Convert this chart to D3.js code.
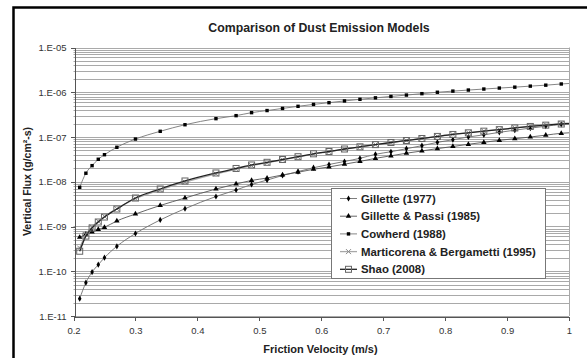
<!DOCTYPE html>
<html>
<head>
<meta charset="utf-8">
<script src="https://cdn.jsdelivr.net/npm/d3@7"></script>
<style>
  body { margin: 0; background: #fff; }
  svg { display: block; font-family: "Liberation Sans", Arial, sans-serif; }
</style>
</head>
<body>
<svg id="chart" width="587" height="358"></svg>
<script>
// friction velocity (m/s), last point only carries the line to the edge
var velocity = [0.21, 0.22, 0.23, 0.24, 0.25, 0.27, 0.30, 0.34, 0.38, 0.43,
  0.4625, 0.4875, 0.5125, 0.5375, 0.5625, 0.5875, 0.6125, 0.6375, 0.6625, 0.6875,
  0.7125, 0.7375, 0.7625, 0.7875, 0.8125, 0.8375, 0.8625, 0.8875, 0.9125, 0.9375,
  0.9625, 0.9875, 1.0];

// vertical flux (g/cm2-s)
var gillette1977 = [2.44e-11, 5.55e-11, 9.6e-11, 1.40e-10, 2.01e-10, 3.61e-10, 6.98e-10, 1.40e-9, 2.50e-9, 4.68e-9,
  6.54e-9, 8.68e-9, 1.09e-8, 1.38e-8, 1.69e-8, 2.06e-8, 2.43e-8, 2.84e-8, 3.34e-8, 4.10e-8,
  4.69e-8, 5.48e-8, 6.4e-8, 7.6e-8, 8.7e-8, 1.0e-7, 1.12e-7, 1.27e-7, 1.42e-7, 1.58e-7,
  1.74e-7, 1.92e-7, 1.98e-7];
var gillettePassi1985 = [5.74e-10, 6.70e-10, 7.54e-10, 8.57e-10, 9.6e-10, 1.33e-9, 1.90e-9, 2.95e-9, 4.33e-9, 6.89e-9,
  8.91e-9, 1.07e-8, 1.21e-8, 1.42e-8, 1.63e-8, 1.90e-8, 2.14e-8, 2.47e-8, 2.84e-8, 3.34e-8,
  3.80e-8, 4.35e-8, 4.87e-8, 5.51e-8, 6.13e-8, 6.87e-8, 7.61e-8, 8.44e-8, 9.16e-8, 1.0e-7,
  1.10e-7, 1.21e-7, 1.24e-7];
var cowherd1988 = [7.5e-9, 1.55e-8, 2.29e-8, 3.18e-8, 4.02e-8, 5.89e-8, 9.0e-8, 1.34e-7, 1.88e-7, 2.57e-7,
  3.0e-7, 3.5e-7, 3.9e-7, 4.35e-7, 4.85e-7, 5.35e-7, 5.85e-7, 6.4e-7, 6.95e-7, 7.5e-7,
  8.05e-7, 8.65e-7, 9.3e-7, 1.0e-6, 1.06e-6, 1.12e-6, 1.18e-6, 1.24e-6, 1.3e-6, 1.37e-6,
  1.44e-6, 1.53e-6, 1.57e-6];
var marticorena1995 = [3.3e-10, 6.6e-10, 9.8e-10, 1.3e-9, 1.68e-9, 2.5e-9, 4.2e-9, 6.6e-9, 9.8e-9, 1.5e-8,
  1.9e-8, 2.3e-8, 2.65e-8, 3.1e-8, 3.55e-8, 4.15e-8, 4.7e-8, 5.35e-8, 6.0e-8, 6.75e-8,
  7.5e-8, 8.35e-8, 9.3e-8, 1.03e-7, 1.14e-7, 1.25e-7, 1.36e-7, 1.48e-7, 1.6e-7, 1.74e-7,
  1.87e-7, 2.0e-7, 2.05e-7];
var shao2008 = [2.8e-10, 6.1e-10, 9.26e-10, 1.26e-9, 1.63e-9, 2.46e-9, 4.33e-9, 6.89e-9, 1.04e-8, 1.57e-8,
  1.98e-8, 2.37e-8, 2.72e-8, 3.14e-8, 3.63e-8, 4.21e-8, 4.74e-8, 5.39e-8, 6.04e-8, 6.76e-8,
  7.54e-8, 8.35e-8, 9.26e-8, 1.03e-7, 1.14e-7, 1.24e-7, 1.35e-7, 1.46e-7, 1.59e-7, 1.72e-7,
  1.84e-7, 1.95e-7, 2.0e-7];

var seriesNames = ["Gillette (1977)", "Gillette & Passi (1985)", "Cowherd (1988)",
  "Marticorena & Bergametti (1995)", "Shao (2008)"];
var seriesValues = [gillette1977, gillettePassi1985, cowherd1988, marticorena1995, shao2008];

var xTicks = [0.2, 0.3, 0.4, 0.5, 0.6, 0.7, 0.8, 0.9, 1];
var xTickLabels = ["0.2", "0.3", "0.4", "0.5", "0.6", "0.7", "0.8", "0.9", "1"];
var yTicks = [1e-11, 1e-10, 1e-9, 1e-8, 1e-7, 1e-6, 1e-5];
var yTickLabels = ["1.E-11", "1.E-10", "1.E-09", "1.E-08", "1.E-07", "1.E-06", "1.E-05"];

// look of each series: line colour and marker type
var styles = [
  { line: "#6e6e6e", width: 0.9, marker: "diamond" },
  { line: "#555", width: 0.9, marker: "triangle" },
  { line: "#777", width: 0.9, marker: "square" },
  { line: "#a8a8a8", width: 1.3, marker: "cross" },
  { line: "#222", width: 1.3, marker: "open" }
];

var svg = d3.select("#chart");

var x = d3.scaleLinear().domain([0.2, 1]).range([73.5, 569]);
var y = d3.scaleLog().domain([1e-11, 1e-5]).range([316, 47.5]);

// outer frame (runs off the right and bottom of the picture)
svg.append("rect")
  .attr("x", 13.5).attr("y", 7.5)
  .attr("width", 640).attr("height", 400)
  .attr("fill", "#fff").attr("stroke", "#000").attr("stroke-width", 2.5);

// horizontal grid, major and minor
svg.append("g").selectAll("line")
  .data(y.ticks())
  .enter().append("line")
  .attr("x1", x(0.2)).attr("x2", x(1))
  .attr("y1", function(d) { return Math.round(y(d)) + 0.5; })
  .attr("y2", function(d) { return Math.round(y(d)) + 0.5; })
  .attr("stroke", "#a9a9a9").attr("stroke-width", 1);

// plot area right edge
svg.append("line")
  .attr("x1", Math.round(x(1)) + 0.5).attr("x2", Math.round(x(1)) + 0.5)
  .attr("y1", y(1e-5)).attr("y2", y(1e-11))
  .attr("stroke", "#a9a9a9");

// axes
var xAxis = d3.axisBottom(x).tickValues(xTicks)
  .tickFormat(function(d, i) { return xTickLabels[i]; })
  .tickSize(4).tickSizeOuter(0);
var yAxis = d3.axisLeft(y).tickValues(yTicks)
  .tickFormat(function(d, i) { return yTickLabels[i]; })
  .tickSize(4).tickSizeOuter(0);

var gx = svg.append("g").attr("transform", "translate(0," + (Math.round(y(1e-11)) + 0.5) + ")").call(xAxis);
var gy = svg.append("g").attr("transform", "translate(" + (Math.round(x(0.2)) + 0.5) + ",0)").call(yAxis);

[gx, gy].forEach(function(g) {
  g.selectAll("path, line").attr("stroke", "#555").attr("shape-rendering", "crispEdges");
  g.selectAll("text").attr("fill", "#333").style("font-size", "9.5px").attr("font-family", null);
});
gx.selectAll("text").attr("dy", "1.1em");
gy.selectAll("text").attr("dx", "-1px");

// series lines
var line = d3.line()
  .x(function(d) { return x(d[0]); })
  .y(function(d) { return y(d[1]); })
  .curve(d3.curveMonotoneX);

function pairs(vals) {
  return vals.map(function(v, i) { return [velocity[i], v]; });
}

function drawMarker(g, type, cx, cy) {
  if (type == "square") {
    g.append("rect").attr("x", cx - 1.7).attr("y", cy - 1.7).attr("width", 3.4).attr("height", 3.4).attr("fill", "#000");
  } else if (type == "diamond") {
    g.append("path").attr("d", d3.symbol().type(d3.symbolDiamond).size(11)()).attr("transform", "translate(" + cx + "," + cy + ")").attr("fill", "#000");
  } else if (type == "triangle") {
    g.append("path").attr("d", d3.symbol().type(d3.symbolTriangle).size(13)()).attr("transform", "translate(" + cx + "," + cy + ")").attr("fill", "#000");
  } else if (type == "cross") {
    g.append("path").attr("d", "M" + (cx - 2.5) + "," + (cy - 2.5) + "L" + (cx + 2.5) + "," + (cy + 2.5) + "M" + (cx - 2.5) + "," + (cy + 2.5) + "L" + (cx + 2.5) + "," + (cy - 2.5))
      .attr("stroke", "#8a8a8a").attr("stroke-width", 1);
  } else if (type == "open") {
    g.append("rect").attr("x", cx - 3).attr("y", cy - 3).attr("width", 6).attr("height", 6)
      .attr("fill", "none").attr("stroke", "#666").attr("stroke-width", 1);
  }
}

var plot = svg.append("g");
// draw from the back: Shao / M&B last so they sit on top like the original
[2, 0, 1, 3, 4].forEach(function(k) {
  var pts = pairs(seriesValues[k]);
  plot.append("path")
    .attr("d", line(pts))
    .attr("fill", "none")
    .attr("stroke", styles[k].line)
    .attr("stroke-width", styles[k].width);
  var mg = plot.append("g");
  pts.slice(0, pts.length - 1).forEach(function(p) {
    drawMarker(mg, styles[k].marker, x(p[0]), y(p[1]));
  });
});

// title and axis titles
svg.append("text")
  .attr("x", 319).attr("y", 31.5)
  .attr("text-anchor", "middle")
  .style("font-size", "12.3px").style("font-weight", "bold")
  .attr("fill", "#222")
  .text("Comparison of Dust Emission Models");

svg.append("text")
  .attr("x", 320.5).attr("y", 353)
  .attr("text-anchor", "middle")
  .style("font-size", "11px").style("font-weight", "bold")
  .attr("fill", "#222")
  .text("Friction Velocity (m/s)");

svg.append("text")
  .attr("transform", "translate(31,181.5) rotate(-90)")
  .attr("text-anchor", "middle")
  .style("font-size", "10.5px").style("font-weight", "bold")
  .attr("fill", "#222")
  .text("Vertical Flux (g/cm\u00b2-s)");

// legend
var legend = svg.append("g");
legend.append("rect")
  .attr("x", 331.5).attr("y", 188.5).attr("width", 214).attr("height", 90)
  .attr("fill", "#fff").attr("stroke", "#777");

seriesNames.forEach(function(name, i) {
  var ly = 198.5 + i * 17.7;
  legend.append("line")
    .attr("x1", 340).attr("x2", 357).attr("y1", ly).attr("y2", ly)
    .attr("stroke", styles[i].line).attr("stroke-width", styles[i].width);
  drawMarker(legend, styles[i].marker, 348.5, ly);
  legend.append("text")
    .attr("x", 361).attr("y", ly + 4)
    .style("font-size", "11.4px").style("font-weight", "bold")
    .attr("fill", "#222")
    .text(name);
});
</script>
</body>
</html>
